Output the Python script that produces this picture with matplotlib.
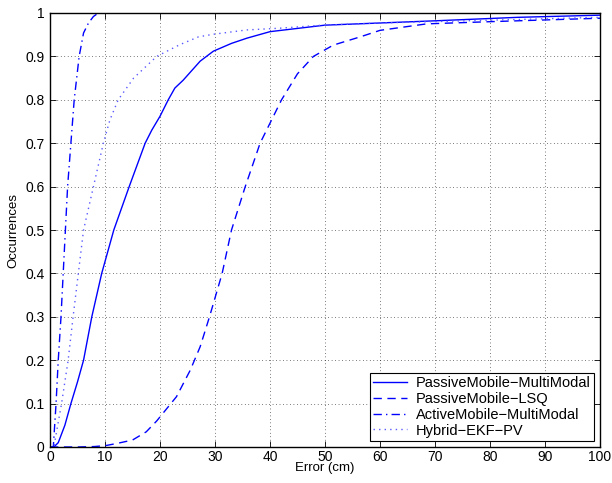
import matplotlib
matplotlib.use("Agg")
import matplotlib.pyplot as plt
from matplotlib.ticker import FixedLocator, FixedFormatter

plt.rcParams['font.family'] = ['Liberation Sans', 'DejaVu Sans']

# PassiveMobile-MultiModal (solid)
pm_x = [0, 0.7, 1.5, 2.7, 3.8, 5.0, 6.1, 7.6, 9.4, 11.6, 14.4, 17.3, 18.5, 20.0, 21.5, 22.7, 24.2, 27.3, 29.7, 33.0, 35.8, 40.0, 50.0, 60.0, 70.0, 85.0, 100.0]
pm_y = [0, 0.0, 0.01, 0.05, 0.10, 0.15, 0.20, 0.30, 0.40, 0.50, 0.60, 0.70, 0.73, 0.762, 0.80, 0.827, 0.845, 0.889, 0.912, 0.93, 0.942, 0.957, 0.972, 0.977, 0.982, 0.99, 0.995]

# PassiveMobile-LSQ (dashed)
lsq_x = [0, 5.0, 8.0, 10.0, 12.1, 15.0, 17.5, 19.4, 23.0, 25.5, 27.3, 29.0, 31.3, 33.0, 35.5, 38.2, 42.1, 45.0, 47.9, 51.5, 56.4, 60.0, 68.5, 80.0, 90.0, 100.0]
lsq_y = [0, 0.0, 0.001, 0.003, 0.008, 0.016, 0.035, 0.06, 0.116, 0.177, 0.231, 0.30, 0.40, 0.50, 0.60, 0.70, 0.80, 0.86, 0.90, 0.926, 0.945, 0.96, 0.975, 0.98, 0.984, 0.988]

# ActiveMobile-MultiModal (dash-dot)
am_x = [0, 0.6, 1.1, 1.5, 2.0, 2.4, 2.8, 3.2, 3.8, 4.4, 5.3, 6.1, 7.0, 7.9, 8.8, 100.0]
am_y = [0, 0.0, 0.10, 0.20, 0.30, 0.40, 0.50, 0.60, 0.70, 0.80, 0.90, 0.954, 0.977, 0.992, 1.0, 1.0]

# Hybrid-EKF-PV (dotted)
hy_x = [0, 0.7, 2.1, 3.3, 4.2, 5.15, 6.1, 7.9, 9.7, 10.9, 12.4, 15.2, 19.4, 23.6, 27.0, 29.7, 35.8, 41.8, 49.6, 60.0, 69.0, 85.0, 100.0]
hy_y = [0, 0.0, 0.10, 0.20, 0.30, 0.40, 0.50, 0.60, 0.70, 0.754, 0.80, 0.85, 0.90, 0.927, 0.945, 0.951, 0.961, 0.965, 0.972, 0.977, 0.98, 0.985, 0.99]

labels = ['PassiveMobile\u2212MultiModal', 'PassiveMobile\u2212LSQ',
          'ActiveMobile\u2212MultiModal', 'Hybrid\u2212EKF\u2212PV']

xticks = [0, 10, 20, 30, 40, 50, 60, 70, 80, 90, 100]
yticks = [0, 0.1, 0.2, 0.3, 0.4, 0.5, 0.6, 0.7, 0.8, 0.9, 1]
ytick_labels = ['0', '0.1', '0.2', '0.3', '0.4', '0.5', '0.6', '0.7', '0.8', '0.9', '1']

fig = plt.figure(figsize=(6.12, 4.83), dpi=100)
ax = fig.add_axes([50/612, 36/483, 550/612, 434/483])

ax.plot(pm_x, pm_y, color='blue', linestyle='-', linewidth=1.0, label=labels[0])
ax.plot(lsq_x, lsq_y, color='blue', linestyle=(0, (6, 4)), linewidth=1.0, label=labels[1])
ax.plot(am_x, am_y, color='blue', linestyle=(0, (6, 3, 1, 3)), linewidth=1.0, label=labels[2])
ax.plot(hy_x, hy_y, color='#5a5aff', linestyle=(0, (1, 3)), linewidth=1.0, label=labels[3])

ax.set_xlim(0, 100)
ax.set_ylim(0, 1)
ax.xaxis.set_major_locator(FixedLocator(xticks))
ax.yaxis.set_major_locator(FixedLocator(yticks))
ax.yaxis.set_major_formatter(FixedFormatter(ytick_labels))
ax.tick_params(direction='in', top=True, right=True, labelsize=10, length=4, width=0.6, pad=4)
ax.tick_params(axis='x', pad=2)
ax.grid(True, color='black', linestyle=(0, (1, 4)), linewidth=0.5)
for s in ax.spines.values():
    s.set_linewidth(1.0)

ax.set_xlabel('Error (cm)', fontsize=9.5, labelpad=-1)
ax.set_ylabel('Occurrences', fontsize=9.5, labelpad=4)

leg = ax.legend(loc='lower right', fontsize=10.5, fancybox=False, framealpha=1,
                edgecolor='black', borderaxespad=0.4, handlelength=2.3,
                handletextpad=0.6, labelspacing=0.12, borderpad=0.25)
leg.get_frame().set_linewidth(0.8)

fig.savefig('out.png', dpi=100)
